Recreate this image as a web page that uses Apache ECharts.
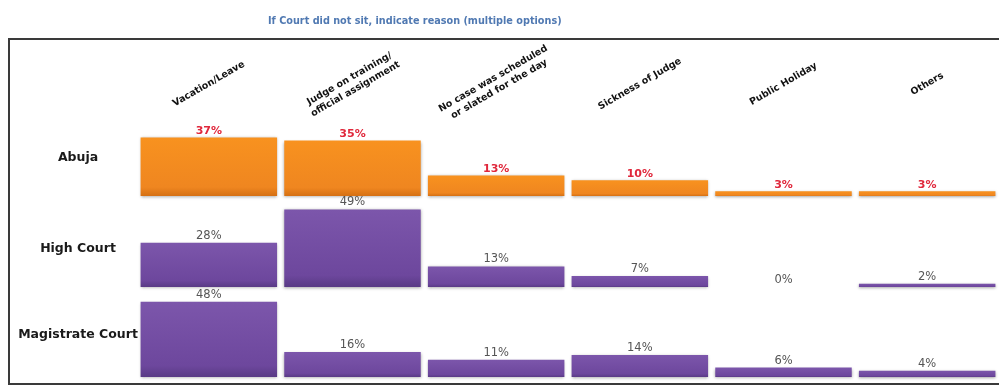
<!DOCTYPE html>
<html>
<head>
<meta charset="utf-8">
<script src="https://cdn.jsdelivr.net/npm/echarts@6/dist/echarts.min.js"></script>
<style>
  html, body { margin: 0; padding: 0; background: #fff; }
  #chart { width: 999px; height: 386px; }
</style>
</head>
<body>
<div id="chart"></div>
<script>
// Reasons a court did not sit, by court type (multiple options allowed)
const reasons = [
  'Vacation/Leave',
  'Judge on training/\nofficial assignment',
  'No case was scheduled\nor slated for the day',
  'Sickness of Judge',
  'Public Holiday',
  'Others'
];
const rowNames = ['Abuja', 'High Court', 'Magistrate Court'];
const abuja = [37, 35, 13, 10, 3, 3];
const highCourt = [28, 49, 13, 7, 0, 2];
const magistrateCourt = [48, 16, 11, 14, 6, 4];

const rows = [abuja, highCourt, magistrateCourt];
const FONT = '"DejaVu Sans", Verdana, sans-serif';

const orange = new echarts.graphic.LinearGradient(0, 0, 0, 1, [
  { offset: 0, color: '#f8921f' },
  { offset: 0.85, color: '#ef8620' },
  { offset: 1, color: '#d57013' }
]);
const purple = new echarts.graphic.LinearGradient(0, 0, 0, 1, [
  { offset: 0, color: '#7c56ab' },
  { offset: 0.85, color: '#6d479d' },
  { offset: 1, color: '#593a85' }
]);

const gridTops = [105, 196, 287];
const gridHeights = [91, 91, 90];

const grids = [], xAxes = [], yAxes = [], series = [];
rows.forEach((vals, i) => {
  grids.push({ left: 137, width: 864, top: gridTops[i], height: gridHeights[i] });
  xAxes.push({
    gridIndex: i,
    type: 'category',
    data: reasons,
    position: 'top',
    axisLine: { show: false },
    axisTick: { show: false },
    axisLabel: i === 0 ? {
      show: true, interval: 0, rotate: 30, margin: 21,
      align: 'center', verticalAlign: 'middle',
      fontFamily: FONT, fontSize: 9.5, fontWeight: 'bold', color: '#111', lineHeight: 12
    } : { show: false }
  });
  yAxes.push({
    gridIndex: i, type: 'value', min: 0, max: 57.5,
    show: false, splitLine: { show: false }
  });
  series.push({
    type: 'bar',
    name: rowNames[i],
    xAxisIndex: i, yAxisIndex: i,
    data: vals,
    barCategoryGap: '5%',
    itemStyle: {
      color: i === 0 ? orange : purple,
      shadowColor: 'rgba(0,0,0,0.35)', shadowBlur: 3, shadowOffsetY: 1
    },
    label: {
      show: true, position: 'top', distance: 1,
      formatter: '{c}%',
      fontFamily: FONT, fontSize: i === 0 ? 11 : 11.5,
      fontWeight: i === 0 ? 'bold' : 'normal',
      color: i === 0 ? '#e0283c' : '#555555'
    },
    silent: true
  });
});

const rowLabelY = [158, 249, 335];
const chart = echarts.init(document.getElementById('chart'), null, { renderer: 'canvas' });
chart.setOption({
  animation: false,
  backgroundColor: '#fff',
  title: {
    text: 'If Court did not sit, indicate reason (multiple options)',
    left: 263, top: 11,
    textStyle: { fontFamily: FONT, fontSize: 9.7, fontWeight: 'bold', color: '#5079b2' }
  },
  grid: grids,
  xAxis: xAxes,
  yAxis: yAxes,
  series: series,
  graphic: [
    {
      type: 'rect', silent: true, z: 0,
      shape: { x: 9, y: 39, width: 1000, height: 345 },
      style: { fill: 'none', stroke: '#3a3a3a', lineWidth: 2 }
    }
  ].concat(rowNames.map((n, i) => ({
    type: 'text', silent: true,
    x: 78, y: rowLabelY[i],
    style: {
      text: n, fill: '#1a1a1a',
      font: 'bold 12.5px ' + FONT,
      textAlign: 'center', textVerticalAlign: 'middle'
    }
  })))
});
</script>
</body>
</html>
